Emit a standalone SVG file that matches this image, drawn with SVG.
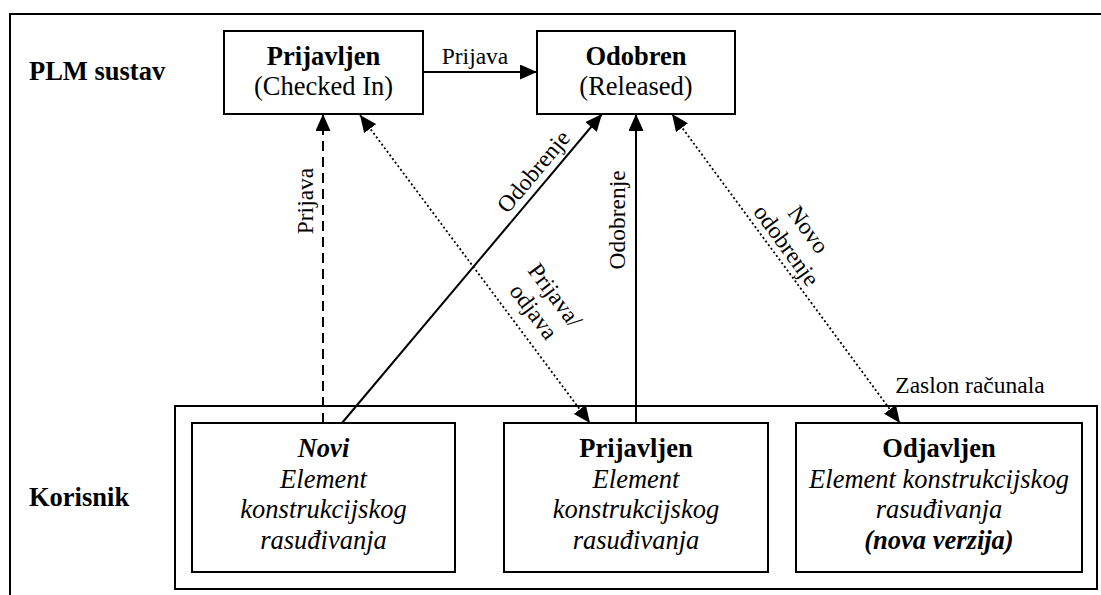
<svg xmlns="http://www.w3.org/2000/svg" width="1101" height="595" viewBox="0 0 1101 595">
<style>
text{font-family:"Liberation Serif","Tinos","Times New Roman","DejaVu Serif",serif;fill:#000}
.main{font-size:26.5px;text-anchor:middle}
.b{font-weight:bold}
.i{font-style:italic}
.lbl{font-size:23.5px;text-anchor:middle}
.side{font-size:26.5px;font-weight:bold}
.box{fill:#fff;stroke:#000;stroke-width:2}
.frame{fill:none;stroke:#000;stroke-width:2}
.c{fill:none;stroke:#000;stroke-width:2}
.dash{stroke-dasharray:10 6}
.dot{stroke-dasharray:2 2.5;stroke-width:1.8}
</style>
<defs>
<marker id="ah" markerUnits="userSpaceOnUse" markerWidth="17" markerHeight="15" refX="17" refY="7.5" orient="auto-start-reverse" viewBox="0 0 17 15">
<path d="M0,0 L17,7.5 L0,15 z" fill="#000"/>
</marker>
</defs>
<rect class="frame" x="10" y="14" width="1100" height="600"/>
<g id="lane-plm"><text class="side" x="29" y="80" font-family="Liberation Serif, serif">PLM sustav</text></g>
<g id="lane-korisnik"><text class="side" x="29" y="506" font-family="Liberation Serif, serif">Korisnik</text></g>
<g id="zaslon">
<rect class="frame" x="175" y="406" width="922" height="183"/>
<text class="lbl" x="970" y="393">Zaslon računala</text>
</g>
<g id="connectors">
<line class="c" x1="423" y1="72" x2="537" y2="72" marker-end="url(#ah)"/>
<text class="lbl" x="475" y="64">Prijava</text>
<line class="c dash" x1="323" y1="423" x2="323" y2="114" marker-end="url(#ah)"/>
<text class="lbl" transform="translate(306,201) rotate(-90)" x="0" y="7">Prijava</text>
<line class="c dot" x1="360" y1="115" x2="590" y2="423" marker-start="url(#ah)" marker-end="url(#ah)"/>
<text class="lbl" transform="translate(545,303) rotate(53)"><tspan x="0" y="-5">Prijava/</tspan><tspan x="0" y="22">odjava</tspan></text>
<line class="c" x1="342" y1="423" x2="602" y2="114" marker-end="url(#ah)"/>
<text class="lbl" transform="translate(534,172) rotate(-50)" x="0" y="7">Odobrenje</text>
<line class="c" x1="636" y1="423" x2="636" y2="114" marker-end="url(#ah)"/>
<text class="lbl" transform="translate(618,220) rotate(-90)" x="0" y="7">Odobrenje</text>
<line class="c dot" x1="672" y1="114" x2="900" y2="423" marker-start="url(#ah)" marker-end="url(#ah)"/>
<text class="lbl" transform="translate(798,237) rotate(54)"><tspan x="0" y="-5">Novo</tspan><tspan x="0" y="22">odobrenje</tspan></text>
</g>
<g id="node-prijavljen-plm">
<rect class="box" x="224" y="31" width="199" height="83"/>
<text class="main b" x="323.5" y="65">Prijavljen</text>
<text class="main" x="323.5" y="95">(Checked In)</text>
</g>
<g id="node-odobren">
<rect class="box" x="537" y="31" width="198" height="83"/>
<text class="main b" x="636" y="65">Odobren</text>
<text class="main" x="636" y="95">(Released)</text>
</g>
<g id="node-novi">
<rect class="box" x="192" y="423" width="263" height="149"/>
<text class="main b i" x="323.5" y="457">Novi</text>
<text class="main i" x="323.5" y="488">Element</text>
<text class="main i" x="323.5" y="518">konstrukcijskog</text>
<text class="main i" x="323.5" y="549">rasuđivanja</text>
</g>
<g id="node-prijavljen-korisnik">
<rect class="box" x="504" y="423" width="264" height="149"/>
<text class="main b" x="636" y="457">Prijavljen</text>
<text class="main i" x="636" y="488">Element</text>
<text class="main i" x="636" y="518">konstrukcijskog</text>
<text class="main i" x="636" y="549">rasuđivanja</text>
</g>
<g id="node-odjavljen">
<rect class="box" x="796" y="423" width="286" height="149"/>
<text class="main b" x="939" y="457">Odjavljen</text>
<text class="main i" x="939" y="488">Element konstrukcijskog</text>
<text class="main i" x="939" y="518">rasuđivanja</text>
<text class="main b i" x="939" y="549">(nova verzija)</text>
</g>
</svg>
